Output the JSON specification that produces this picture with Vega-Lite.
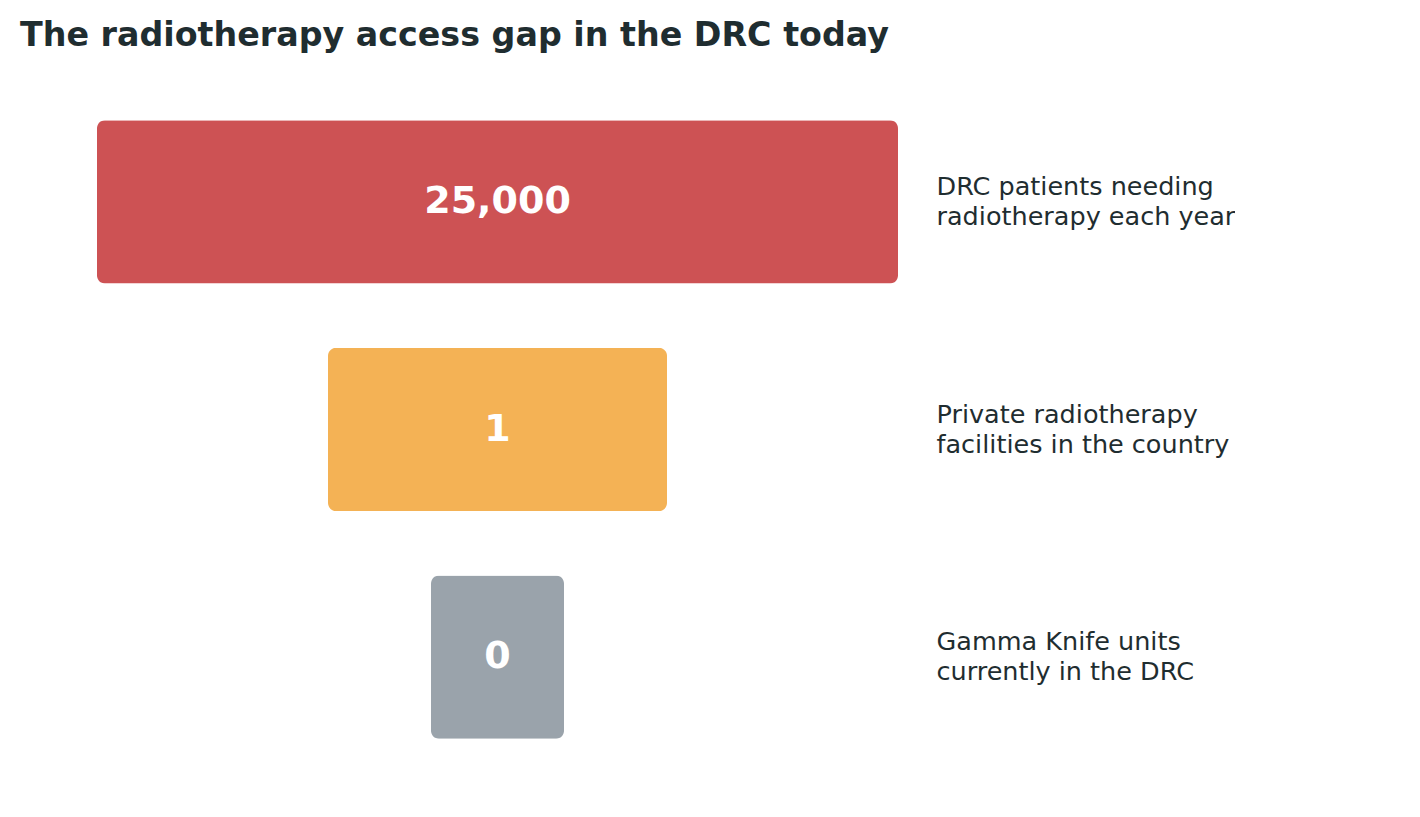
{
  "$schema": "https://vega.github.io/schema/vega-lite/v6.json",
  "width": 896,
  "height": 683,
  "padding": {"left": 20, "top": 18, "right": 0, "bottom": 0},
  "background": "white",
  "title": {
    "text": "The radiotherapy access gap in the DRC today",
    "anchor": "start",
    "font": "DejaVu Sans",
    "fontSize": 33.3,
    "fontWeight": "bold",
    "color": "#1f2d30",
    "offset": 35
  },
  "data": {
    "values": [
      {"label": "DRC patients needing\nradiotherapy each year", "shown": "25,000", "size": 801, "tone": "need"},
      {"label": "Private radiotherapy\nfacilities in the country", "shown": "1", "size": 339, "tone": "private"},
      {"label": "Gamma Knife units\ncurrently in the DRC", "shown": "0", "size": 133, "tone": "gamma"}
    ]
  },
  "encoding": {
    "y": {
      "field": "label",
      "type": "nominal",
      "sort": null,
      "scale": {"paddingInner": 0.283, "paddingOuter": 0.1415},
      "axis": {
        "orient": "right",
        "title": null,
        "domain": false,
        "ticks": false,
        "labelPadding": 20,
        "labelOffset": -15,
        "labelAlign": "left",
        "labelBaseline": "middle",
        "labelFont": "DejaVu Sans",
        "labelFontSize": 25.5,
        "labelLineHeight": 30,
        "labelColor": "#1f2d30",
        "labelLimit": 0,
        "labelExpr": "split(datum.label, '\\n')"
      }
    }
  },
  "layer": [
    {
      "mark": {"type": "bar", "cornerRadius": 8},
      "encoding": {
        "x": {
          "field": "size",
          "type": "quantitative",
          "stack": "center",
          "scale": {"domain": [-77, 819], "nice": false, "zero": false},
          "axis": null
        },
        "color": {
          "field": "tone",
          "type": "nominal",
          "scale": {"domain": ["need", "private", "gamma"], "range": ["#cd5254", "#f4b255", "#9aa3ab"]},
          "legend": null
        }
      }
    },
    {
      "mark": {"type": "text", "color": "white", "font": "DejaVu Sans", "fontSize": 38, "fontWeight": "bold", "align": "center", "baseline": "middle"},
      "encoding": {
        "x": {
          "field": "size",
          "type": "quantitative",
          "stack": "center",
          "bandPosition": 0.5
        },
        "text": {"field": "shown"}
      }
    }
  ],
  "config": {"view": {"stroke": null}}
}
